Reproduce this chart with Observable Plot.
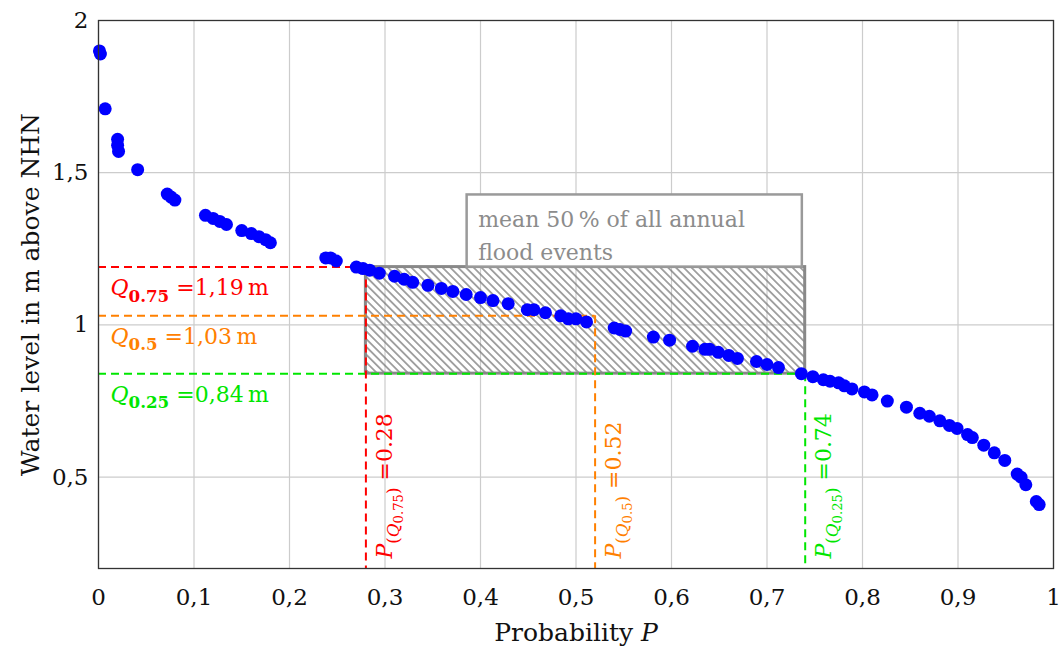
<!DOCTYPE html>
<html>
<head>
<meta charset="utf-8">
<script src="https://cdn.jsdelivr.net/npm/d3@7"></script>
<script src="https://cdn.jsdelivr.net/npm/@observablehq/plot@0.6"></script>
<style>
  html, body { margin: 0; padding: 0; background: white; }
</style>
</head>
<body>
<div id="chart"></div>
<script>
// ---- data ----
const probability = [0.001, 0.002, 0.007, 0.020, 0.020, 0.021, 0.041, 0.072, 0.076, 0.080,
  0.112, 0.120, 0.127, 0.134, 0.150, 0.160, 0.168, 0.175, 0.180, 0.238,
  0.243, 0.249, 0.270, 0.277, 0.284, 0.294, 0.310, 0.320, 0.329, 0.345,
  0.359, 0.371, 0.385, 0.400, 0.413, 0.429, 0.449, 0.456, 0.468, 0.484,
  0.492, 0.500, 0.511, 0.540, 0.546, 0.552, 0.581, 0.598, 0.622, 0.635,
  0.640, 0.649, 0.660, 0.669, 0.689, 0.700, 0.712, 0.736, 0.748, 0.759,
  0.766, 0.775, 0.781, 0.789, 0.802, 0.810, 0.826, 0.846, 0.860, 0.870,
  0.881, 0.891, 0.899, 0.910, 0.915, 0.927, 0.938, 0.949, 0.962, 0.966,
  0.971, 0.982, 0.985];
const waterLevel = [1.90, 1.89, 1.71, 1.61, 1.59, 1.57, 1.51, 1.43, 1.42, 1.41,
  1.36, 1.35, 1.34, 1.33, 1.31, 1.30, 1.29, 1.28, 1.27, 1.22,
  1.22, 1.21, 1.19, 1.185, 1.18, 1.17, 1.16, 1.15, 1.14, 1.13,
  1.12, 1.11, 1.10, 1.09, 1.08, 1.07, 1.05, 1.05, 1.04, 1.03,
  1.02, 1.02, 1.01, 0.99, 0.985, 0.98, 0.96, 0.95, 0.93, 0.92,
  0.92, 0.91, 0.90, 0.89, 0.88, 0.87, 0.86, 0.84, 0.83, 0.82,
  0.815, 0.81, 0.80, 0.79, 0.78, 0.77, 0.75, 0.73, 0.71, 0.70,
  0.685, 0.67, 0.66, 0.64, 0.63, 0.605, 0.58, 0.555, 0.51, 0.50,
  0.475, 0.42, 0.41];

const quantileLevels = [1.19, 1.03, 0.84];          // Q0.75, Q0.5, Q0.25
const quantileProbs = [0.28, 0.52, 0.74];           // P(Q)
const quantileColors = ["#ff0000", "#ff8000", "#00e600"];
const quantileTexts = ["*Q*_{0.75} =1,19\u2009m", "*Q*_{0.5} =1,03\u2009m", "*Q*_{0.25} =0,84\u2009m"];
const probTexts = ["*P*_{(*Q*_{0.75})} =0.28", "*P*_{(*Q*_{0.5})} =0.52", "*P*_{(*Q*_{0.25})} =0.74"];

const boxText = "mean 50\u2009% of all annual\nflood events";
const boxX = [0.386, 0.737];
const boxY = [1.19, 1.427];

const xTicks = [0, 0.1, 0.2, 0.3, 0.4, 0.5, 0.6, 0.7, 0.8, 0.9, 1];
const yTicks = [0.5, 1, 1.5, 2];
const xTitle = "Probability *P*";
const yTitle = "Water level in m above NHN";

// ---- tables for the library ----
const points = probability.map((p, i) => ({p, h: waterLevel[i]}));
const quant = quantileLevels.map((q, i) => ({
  q, p: quantileProbs[i], color: quantileColors[i], qText: quantileTexts[i], pText: probTexts[i]
}));
const band = [{x1: quantileProbs[0], x2: quantileProbs[2], y1: quantileLevels[2], y2: quantileLevels[0]}];
const box = [{x1: boxX[0], x2: boxX[1], y1: boxY[0], y2: boxY[1], t: boxText}];
const comma = d => String(d).replace(".", ",");

const svg = Plot.plot({
  width: 1061,
  height: 648,
  marginLeft: 98,
  marginRight: 8,
  marginTop: 20,
  marginBottom: 80,
  style: {fontFamily: "'DejaVu Serif', serif", fontSize: "23px", background: "white", color: "#111"},
  x: {domain: [0, 1], ticks: xTicks, tickFormat: comma, tickSize: 0, tickPadding: 20, label: null},
  y: {domain: [0.2, 2], ticks: yTicks, tickFormat: comma, tickSize: 0, tickPadding: 10, label: null},
  color: {type: "identity"},
  marks: [
    Plot.ruleX(xTicks, {x: d => d, stroke: "#cccccc", strokeWidth: 1.2}),
    Plot.ruleY(yTicks, {y: d => d, stroke: "#cccccc", strokeWidth: 1.2}),
    Plot.rect(band, {x1: "x1", x2: "x2", y1: "y1", y2: "y2", fill: "url(#hatch)", stroke: "#888888", strokeWidth: 3}),
    Plot.rect(box, {x1: "x1", x2: "x2", y1: "y1", y2: "y2", fill: "white", stroke: "#9a9a9a", strokeWidth: 2.5}),
    Plot.text(box, {x: "x1", y: d => (d.y1 + d.y2) / 2, text: "t", textAnchor: "start", dx: 11, dy: 2,
      lineHeight: 1.5, fill: "#8c8c8c", fontSize: 22}),
    Plot.ruleY(quant, {y: "q", x1: 0, x2: "p", stroke: "color", strokeWidth: 2, strokeDasharray: "8,5"}),
    Plot.ruleX(quant, {x: "p", y1: "q", y2: 0.2, stroke: "color", strokeWidth: 2, strokeDasharray: "8,5"}),
    Plot.text(quant, {x: 0, y: "q", text: "qText", fill: "color", textAnchor: "start", dx: 12, dy: 21, fontSize: 22}),
    Plot.text(quant, {x: "p", y: 0.2, text: "pText", fill: "color", rotate: -90, textAnchor: "start", dx: 19, dy: -10, fontSize: 22}),
    Plot.dot(points, {x: "p", y: "h", r: 6.5, fill: "#0000ff", stroke: "none"}),
    Plot.frame({stroke: "#333333", strokeWidth: 1.3}),
    Plot.text([xTitle], {frameAnchor: "bottom", text: d => d, textAnchor: "middle", lineAnchor: "middle", dy: 64, fontSize: 25, fill: "#111"}),
    Plot.text([yTitle], {frameAnchor: "left", text: d => d, textAnchor: "middle", lineAnchor: "middle", rotate: -90, dx: -68, fontSize: 25, fill: "#111"})
  ]
});

// hatch pattern definition
const defs = d3.select(svg).insert("defs", ":first-child");
const pat = defs.append("pattern")
  .attr("id", "hatch")
  .attr("patternUnits", "userSpaceOnUse")
  .attr("width", 5.5).attr("height", 5.5)
  .attr("patternTransform", "rotate(-45)");
pat.append("line").attr("x1", 2.75).attr("y1", 0).attr("x2", 2.75).attr("y2", 5.5)
  .attr("stroke", "#777").attr("stroke-width", 1.3);

// rich text: *italic*, _{subscript}
function richify(el) {
  const s = el.textContent;
  if (!(s.includes("*") || s.includes("_{"))) return;
  const holder = el.closest("[font-size]");
  const F = holder ? parseFloat(holder.getAttribute("font-size")) : 22;
  const boldSub = s.startsWith("*Q*");
  const shift = [0, 0.3 * F, 0.5 * F];
  const size = [F, 0.76 * F, 0.6 * F];
  el.textContent = "";
  let italic = false, level = 0, cur = 0, buf = "";
  const flush = () => {
    if (!buf) return;
    const t = document.createElementNS("http://www.w3.org/2000/svg", "tspan");
    t.textContent = buf;
    t.setAttribute("font-size", size[level]);
    if (italic) t.setAttribute("font-style", "italic");
    if (boldSub && level > 0) t.setAttribute("font-weight", "bold");
    const d = shift[level] - cur;
    if (d) t.setAttribute("dy", d);
    cur = shift[level];
    el.appendChild(t);
    buf = "";
  };
  for (let i = 0; i < s.length; i++) {
    if (s[i] === "*") { flush(); italic = !italic; }
    else if (s[i] === "_" && s[i + 1] === "{") { flush(); level++; i++; }
    else if (s[i] === "}") { flush(); level--; }
    else buf += s[i];
  }
  flush();
}
svg.querySelectorAll("text").forEach(richify);

document.getElementById("chart").appendChild(svg);
</script>
</body>
</html>
